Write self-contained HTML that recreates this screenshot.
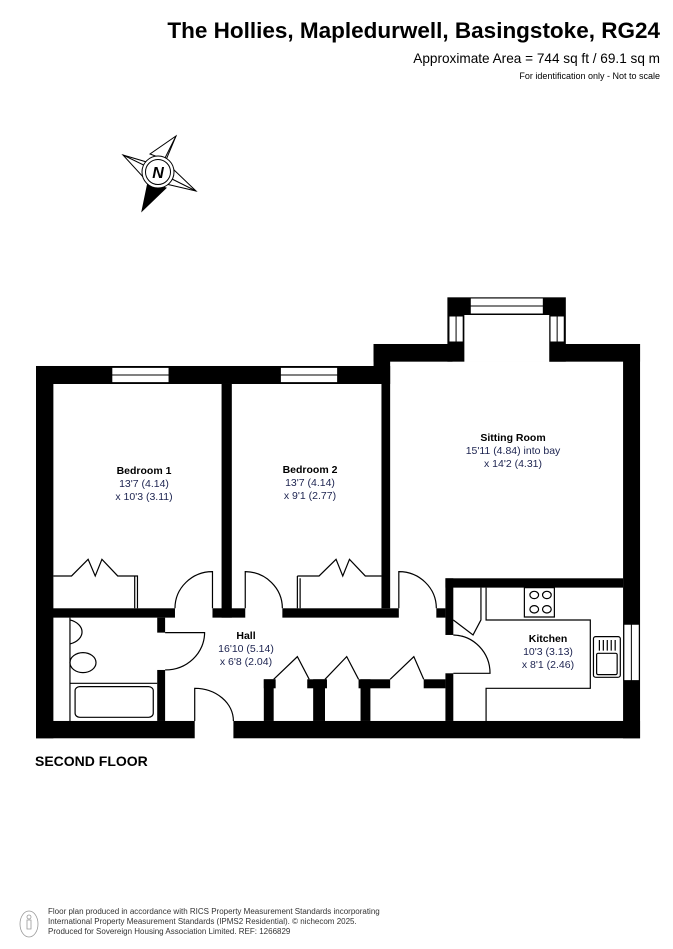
<!DOCTYPE html>
<html><head><meta charset="utf-8"><style>
html,body{margin:0;padding:0;background:#fff}
svg{display:block}
text{font-family:"Liberation Sans",Arial,sans-serif}
</style></head><body>
<svg width="673" height="949" viewBox="0 0 673 949" xmlns="http://www.w3.org/2000/svg">
<text x="660" y="38" text-anchor="end" font-size="22.5" font-weight="bold">The Hollies, Mapledurwell, Basingstoke, RG24</text>
<text x="660" y="63" text-anchor="end" font-size="13.6">Approximate Area = 744 sq ft / 69.1 sq m</text>
<text x="660" y="79" text-anchor="end" font-size="9">For identification only - Not to scale</text>

<!-- compass -->
<g stroke="#000" stroke-width="1" fill="#fff">
<polygon points="176,136 166,160 150,154"/>
<polygon points="123,155 150,163 144,178"/>
<polygon points="196,191 166,184 172,168"/>
<polygon points="142,211 148,182 166,188" fill="#000"/>
<line x1="176" y1="136" x2="158" y2="172"/><line x1="123" y1="155" x2="158" y2="172"/><line x1="196" y1="191" x2="158" y2="172"/>
<circle cx="158" cy="172" r="16"/>
<circle cx="158" cy="172" r="12.5"/>
</g>
<text x="158" y="178" text-anchor="middle" font-size="16" font-weight="bold" font-style="italic">N</text>

<g transform="translate(28.9,290) scale(0.3948,0.3333)">
<g fill="#000">
<rect x="18" y="228" width="897" height="54"/>
<rect x="873" y="162" width="42" height="120"/>
<rect x="873" y="162" width="200" height="53"/>
<rect x="1305" y="162" width="243" height="53"/>
<rect x="1060" y="22" width="300" height="193"/>
<rect x="1505" y="162" width="43" height="1183"/>
<rect x="18" y="228" width="44" height="1117"/>
<rect x="18" y="1293" width="402" height="52"/>
<rect x="518" y="1293" width="1030" height="52"/>
<rect x="893" y="282" width="22" height="673"/>
<rect x="488" y="282" width="26" height="701"/>
<rect x="18" y="955" width="352" height="28"/>
<rect x="465" y="955" width="83" height="28"/>
<rect x="642" y="955" width="295" height="28"/>
<rect x="1032" y="955" width="23" height="28"/>
<rect x="325" y="983" width="20" height="45"/>
<rect x="325" y="1140" width="20" height="153"/>
<rect x="1055" y="865" width="20" height="170"/>
<rect x="1055" y="1150" width="20" height="143"/>
<rect x="1055" y="865" width="450" height="28"/>
<rect x="595" y="1168" width="25" height="125"/>
<rect x="720" y="1168" width="30" height="125"/>
<rect x="840" y="1168" width="25" height="125"/>
<rect x="595" y="1168" width="30" height="27"/>
<rect x="705" y="1168" width="50" height="27"/>
<rect x="835" y="1168" width="80" height="27"/>
<rect x="1000" y="1168" width="55" height="27"/>
</g>
<g fill="#fff" stroke="#000" stroke-width="1">
<rect x="1103" y="75" width="215" height="141" stroke="none"/>
<rect x="1118" y="24" width="185" height="48" vector-effect="non-scaling-stroke"/>
<line x1="1118" y1="48" x2="1303" y2="48" vector-effect="non-scaling-stroke"/>
<rect x="1064" y="78" width="36" height="78" vector-effect="non-scaling-stroke"/>
<line x1="1082" y1="78" x2="1082" y2="156" vector-effect="non-scaling-stroke"/>
<rect x="1320" y="78" width="36" height="78" vector-effect="non-scaling-stroke"/>
<line x1="1338" y1="78" x2="1338" y2="156" vector-effect="non-scaling-stroke"/>
<rect x="210" y="232" width="145" height="46" vector-effect="non-scaling-stroke"/>
<line x1="210" y1="255" x2="355" y2="255" vector-effect="non-scaling-stroke"/>
<rect x="637" y="232" width="145" height="46" vector-effect="non-scaling-stroke"/>
<line x1="637" y1="255" x2="782" y2="255" vector-effect="non-scaling-stroke"/>
<rect x="1507" y="1003" width="39" height="169" vector-effect="non-scaling-stroke"/>
<line x1="1526" y1="1003" x2="1526" y2="1172" vector-effect="non-scaling-stroke"/>
</g>
<g fill="none" stroke="#000" stroke-width="1.2">
<path vector-effect="non-scaling-stroke" d="M62 858 H108 L150 808 L168 858 L185 808 L225 858 H275 V955 M268 858 V955"/>
<path vector-effect="non-scaling-stroke" d="M680 858 H735 L778 808 L795 858 L812 808 L852 858 H893 M680 858 V955 M687 865 V955"/>
<path vector-effect="non-scaling-stroke" d="M370 955 A95 110 0 0 1 465 845 V955"/>
<path vector-effect="non-scaling-stroke" d="M548 955 V845 A95 110 0 0 1 642 955"/>
<path vector-effect="non-scaling-stroke" d="M937 955 V845 A95 110 0 0 1 1032 955"/>
<path vector-effect="non-scaling-stroke" d="M345 1028 H445 A100 112 0 0 1 345 1140"/>
<path vector-effect="non-scaling-stroke" d="M420 1293 V1195 A98 98 0 0 1 518 1293"/>
<path vector-effect="non-scaling-stroke" d="M1075 1035 A95 115 0 0 1 1168 1150 H1075"/>
<path vector-effect="non-scaling-stroke" d="M620 1168 L680 1100 L710 1168 M750 1168 L805 1100 L835 1168 M915 1168 L975 1100 L1000 1168"/>
<path vector-effect="non-scaling-stroke" d="M1075 990 L1125 1035 L1145 990 V893 M1158 893 V990 H1422 V1195 H1158 V1293"/>
<rect vector-effect="non-scaling-stroke" x="1255" y="893" width="76" height="88"/>
<circle vector-effect="non-scaling-stroke" cx="1280" cy="915" r="11"/>
<circle vector-effect="non-scaling-stroke" cx="1312" cy="915" r="11"/>
<circle vector-effect="non-scaling-stroke" cx="1280" cy="958" r="11"/>
<circle vector-effect="non-scaling-stroke" cx="1312" cy="958" r="11"/>
<rect vector-effect="non-scaling-stroke" x="1430" y="1040" width="68" height="122" rx="6"/>
<rect vector-effect="non-scaling-stroke" x="1438" y="1090" width="52" height="64" rx="4"/>
<path vector-effect="non-scaling-stroke" d="M1445 1050 V1082 M1455 1050 V1082 M1465 1050 V1082 M1475 1050 V1082 M1485 1050 V1082"/>
<path vector-effect="non-scaling-stroke" d="M104 983 V1293 M104 1180 H325"/>
<path vector-effect="non-scaling-stroke" d="M104 990 A45 38 0 0 1 104 1062"/>
<ellipse vector-effect="non-scaling-stroke" cx="137" cy="1118" rx="33" ry="30"/>
<rect vector-effect="non-scaling-stroke" x="117" y="1190" width="198" height="92" rx="12"/>
</g>
</g>

<g text-anchor="middle" font-size="10.5">
<text x="144" y="474" font-weight="bold">Bedroom 1</text>
<text x="144" y="487" fill="#1c2350">13'7 (4.14)</text>
<text x="144" y="500" fill="#1c2350">x 10'3 (3.11)</text>
<text x="310" y="473" font-weight="bold">Bedroom 2</text>
<text x="310" y="486" fill="#1c2350">13'7 (4.14)</text>
<text x="310" y="499" fill="#1c2350">x 9'1 (2.77)</text>
<text x="513" y="441" font-weight="bold">Sitting Room</text>
<text x="513" y="454" fill="#1c2350">15'11 (4.84) into bay</text>
<text x="513" y="467" fill="#1c2350">x 14'2 (4.31)</text>
<text x="246" y="639" font-weight="bold">Hall</text>
<text x="246" y="652" fill="#1c2350">16'10 (5.14)</text>
<text x="246" y="665" fill="#1c2350">x 6'8 (2.04)</text>
<text x="548" y="642" font-weight="bold">Kitchen</text>
<text x="548" y="655" fill="#1c2350">10'3 (3.13)</text>
<text x="548" y="668" fill="#1c2350">x 8'1 (2.46)</text>
</g>
<text x="35" y="766" font-size="14" font-weight="bold">SECOND FLOOR</text>

<g fill="none" stroke="#999" stroke-width="0.8">
<ellipse cx="29" cy="924" rx="9" ry="13"/>
<circle cx="29" cy="917" r="2"/>
<path d="M27 920 h4 v9 h-4 z"/>
</g>
<g font-size="8" fill="#333">
<text x="48" y="914">Floor plan produced in accordance with RICS Property Measurement Standards incorporating</text>
<text x="48" y="924">International Property Measurement Standards (IPMS2 Residential).   © nichecom 2025.</text>
<text x="48" y="934">Produced for Sovereign Housing Association Limited.   REF:  1266829</text>
</g>
</svg>
</body></html>
